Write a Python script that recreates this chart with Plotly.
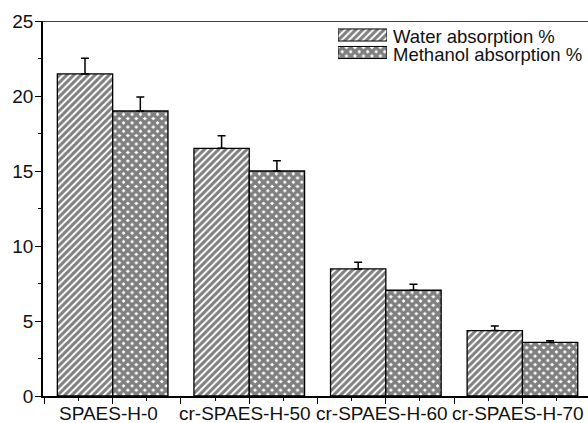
import plotly.graph_objects as go

categories = ["SPAES-H-0", "cr-SPAES-H-50", "cr-SPAES-H-60", "cr-SPAES-H-70"]
water = [21.47, 16.51, 8.47, 4.36]
water_err = [1.05, 0.84, 0.44, 0.31]
methanol = [19.0, 15.0, 7.05, 3.57]
methanol_err = [0.93, 0.69, 0.40, 0.12]
y_ticks = [0, 5, 10, 15, 20, 25]
series_names = ["Water absorption %", "Methanol absorption %"]

xpos = list(range(len(categories)))
FONT = dict(family="Liberation Sans, Arial, sans-serif", size=19, color="#111111")
LFONT = dict(family="Liberation Sans, Arial, sans-serif", size=18.5, color="#111111")

WATER_PAT = dict(shape="/", fgcolor="black", bgcolor="white", size=5, solidity=0.6)
METH_PAT = dict(shape="x", fgcolor="black", bgcolor="white", size=6, solidity=0.8)

fig = go.Figure()
fig.add_trace(go.Bar(
    x=xpos, y=water, name=series_names[0], showlegend=False,
    marker=dict(color="white", line=dict(color="black", width=1.3), pattern=WATER_PAT),
    error_y=dict(type="data", symmetric=False, array=water_err, arrayminus=[0]*4,
                 color="black", thickness=1.5, width=4),
))
fig.add_trace(go.Bar(
    x=xpos, y=methanol, name=series_names[1], showlegend=False,
    marker=dict(color="white", line=dict(color="black", width=1.3), pattern=METH_PAT),
    error_y=dict(type="data", symmetric=False, array=methanol_err, arrayminus=[0]*4,
                 color="black", thickness=1.5, width=4),
))

# legend swatches (helper axis)
fig.add_trace(go.Bar(x=[1], y=[1], orientation="h", xaxis="x2", yaxis="y2",
                     width=0.69, offset=-0.345, showlegend=False, hoverinfo="skip",
                     marker=dict(color="white", line=dict(color="black", width=1), pattern=WATER_PAT)))
fig.add_trace(go.Bar(x=[1], y=[0], orientation="h", xaxis="x2", yaxis="y2",
                     width=0.69, offset=-0.345, showlegend=False, hoverinfo="skip",
                     marker=dict(color="white", line=dict(color="black", width=1), pattern=METH_PAT)))

xt = [i * 0.5 - 0.5 for i in range(9)]

L, T, W, H = 43, 21, 545, 375
def px(x):
    return (x - L) / W
def py(y):
    return (T + H - y) / H

annotations = [
    dict(x=px(391), y=py(37), xref="paper", yref="paper", text=series_names[0],
         showarrow=False, xanchor="left", yanchor="middle", font=LFONT),
    dict(x=px(391), y=py(54.5), xref="paper", yref="paper", text=series_names[1],
         showarrow=False, xanchor="left", yanchor="middle", font=LFONT),
]
for i, c in enumerate(categories):
    annotations.append(dict(x=xpos[i], y=0, xref="x", yref="paper", text=c,
                            showarrow=False, xanchor="center", yanchor="top",
                            xshift=-4, yshift=-5, font=FONT))

fig.update_layout(
    width=588, height=423,
    margin=dict(l=43, r=0, t=21, b=27),
    plot_bgcolor="white", paper_bgcolor="white",
    barmode="group", bargap=0.19, bargroupgap=0,
    font=FONT,
    showlegend=False,
    xaxis=dict(range=[-0.51, 3.48], tickmode="array", tickvals=xt, showticklabels=False,
               ticks="outside", ticklen=6, tickwidth=1.2, tickcolor="black",
               showline=True, linecolor="black", linewidth=1.5, showgrid=False,
               zeroline=False,
               minor=dict(tickmode="linear", tick0=-0.5, dtick=0.25, ticks="outside",
                          ticklen=3, tickwidth=1.2, tickcolor="black", showgrid=False)),
    yaxis=dict(range=[0, 25], tickmode="array", tickvals=y_ticks,
               ticks="outside", ticklen=6, tickwidth=1.2, tickcolor="black",
               showline=True, linecolor="black", linewidth=1.5, showgrid=False,
               zeroline=False, tickfont=FONT, ticklabelstandoff=-2,
               minor=dict(tickmode="linear", tick0=0, dtick=2.5, ticks="outside",
                          ticklen=3, tickwidth=1.2, tickcolor="black", showgrid=False)),
    xaxis2=dict(domain=[px(338), px(387)], range=[0, 1], visible=False, anchor="y2"),
    yaxis2=dict(domain=[py(61.25), py(26.25)], range=[-0.5, 1.5], visible=False, anchor="x2"),
    shapes=[dict(type="line", xref="paper", yref="y", x0=0, x1=1, y0=25, y1=25,
                 line=dict(color="black", width=1.5))],
    annotations=annotations,
)

fig.write_html("out.html")
